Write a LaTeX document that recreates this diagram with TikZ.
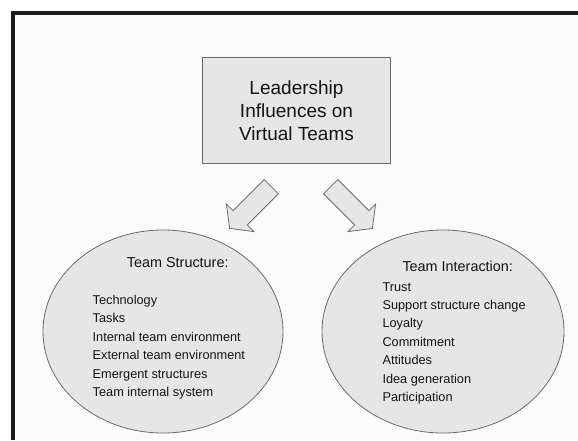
\documentclass[tikz,border=0pt]{standalone}
\usepackage{fontspec}
\setmainfont{Liberation Sans}
\usetikzlibrary{calc,shapes.geometric}
\definecolor{frame}{HTML}{1C1C1C}
\definecolor{panel}{HTML}{FBFBFB}
\definecolor{shapefill}{HTML}{E6E6E6}
\definecolor{edge}{HTML}{6A6A6A}
\definecolor{ink}{HTML}{141414}
\tikzset{
  shapeline/.style={draw=edge, line width=0.8pt, fill=shapefill},
  titlebox/.style={shapeline, rectangle, inner sep=0pt, align=center, text=ink,
     font=\fontsize{19}{23}\selectfont},
  bubble/.style={shapeline, ellipse, inner sep=0pt},
  headtxt/.style={anchor=base west, inner sep=0pt, text=ink, font=\fontsize{14.4}{17}\selectfont},
  itemtxt/.style={anchor=base west, inner sep=0pt, text=ink, font=\fontsize{12.75}{15}\selectfont},
  blockarrow/.style={shapeline, line join=miter}
}
\begin{document}
\begin{tikzpicture}[x=1pt,y=-1pt]
\useasboundingbox (0,0) rectangle (578,440);
\fill[white] (0,0) rectangle (578,440);
\fill[panel] (13,13) rectangle (578,440);
\draw[frame, line width=4pt] (13,440) -- (13,13) -- (578,13);

% title box
\node[titlebox, minimum width=188.4pt, minimum height=106pt] (lead) at (296.5,110.3)
  {Leadership\\Influences on\\Virtual Teams};

% block arrows
\draw[blockarrow] (264.2,179.6) -- (278.4,193.8) -- (247.3,224.9) -- (254.0,231.6)
   -- (229.6,228.4) -- (226.4,204.0) -- (233.1,210.7) -- cycle;
\draw[blockarrow] (337.8,179.6) -- (323.6,193.8) -- (354.7,224.9) -- (348.0,231.6)
   -- (372.4,228.4) -- (375.6,204.0) -- (368.9,210.7) -- cycle;

% ellipses
\node[bubble, minimum width=240pt, minimum height=203pt] (struct) at (163,331.5) {};
\node[bubble, minimum width=242pt, minimum height=203pt] (inter) at (443,331.5) {};

% left texts
\node[headtxt] (sh) at (126.7,267.5) {Team Structure:};
\node[itemtxt] (s1) at (92.5,304.3) {Technology};
\node[itemtxt] (s2) at (92.5,322.7) {Tasks};
\node[itemtxt] (s3) at (92.5,341.1) {Internal team environment};
\node[itemtxt] (s4) at (92.5,359.6) {External team environment};
\node[itemtxt] (s5) at (92.5,378.1) {Emergent structures};
\node[itemtxt] (s6) at (92.5,396.6) {Team internal system};

% right texts
\node[headtxt] (ih) at (402.3,271.7) {Team Interaction:};
\node[itemtxt] (i1) at (382.3,291.0) {Trust};
\node[itemtxt] (i2) at (382.3,309.4) {Support structure change};
\node[itemtxt] (i3) at (382.3,327.8) {Loyalty};
\node[itemtxt] (i4) at (382.3,346.2) {Commitment};
\node[itemtxt] (i5) at (382.3,364.8) {Attitudes};
\node[itemtxt] (i6) at (382.3,383.3) {Idea generation};
\node[itemtxt] (i7) at (382.3,401.7) {Participation};
\end{tikzpicture}
\end{document}
